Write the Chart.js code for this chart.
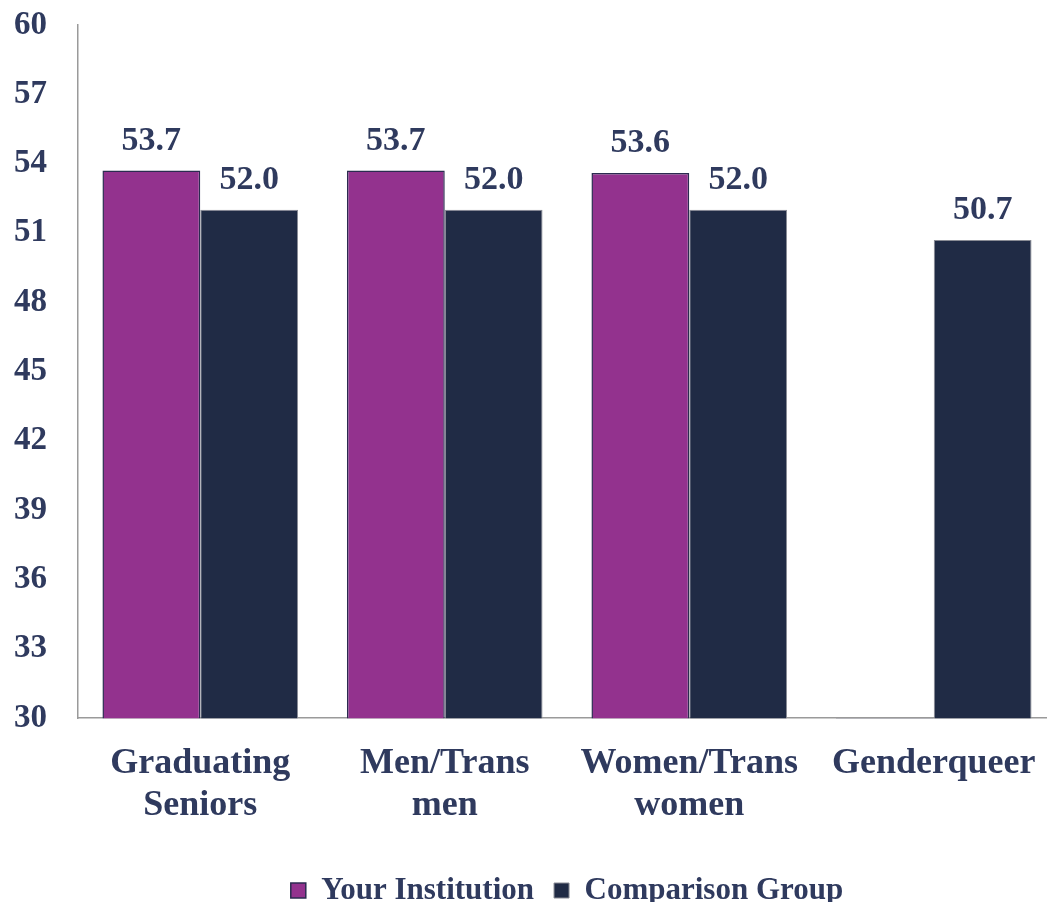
<!DOCTYPE html>
<html>
<head>
<meta charset="utf-8">
<script src="https://cdn.jsdelivr.net/npm/chart.js@4/dist/chart.umd.min.js"></script>
<style>
  html, body { margin: 0; padding: 0; background: #ffffff; overflow: hidden; }
  #wrap { width: 1056px; height: 902px; }
</style>
</head>
<body>
<div id="wrap"><canvas id="c" width="1056" height="902"></canvas></div>
<script>
const categories = [["Graduating", "Seniors"], ["Men/Trans", "men"], ["Women/Trans", "women"], ["Genderqueer"]];
const yourInstitution = [53.7, 53.7, 53.6, 30];
const comparisonGroup = [52.0, 52.0, 52.0, 50.7];
const yTicks = [30, 33, 36, 39, 42, 45, 48, 51, 54, 57, 60];

const textColor = '#2F3A5E';
const fontFamily = '"Liberation Serif", "Times New Roman", serif';

const valueLabels = {
  id: 'valueLabels',
  afterDatasetsDraw(chart) {
    const ctx = chart.ctx;
    ctx.save();
    ctx.font = 'bold 34px ' + fontFamily;
    ctx.fillStyle = textColor;
    ctx.textAlign = 'center';
    ctx.textBaseline = 'alphabetic';
    chart.data.datasets.forEach((ds, i) => {
      const meta = chart.getDatasetMeta(i);
      meta.data.forEach((el, j) => {
        const v = ds.data[j];
        if (v == null || v <= 30) return;
        ctx.fillText(v.toFixed(1), el.x, el.y - 21);
      });
    });
    ctx.restore();
  }
};

new Chart(document.getElementById('c'), {
  type: 'bar',
  data: {
    labels: categories,
    datasets: [
      {
        label: 'Your Institution',
        data: yourInstitution,
        backgroundColor: '#93328E',
        borderColor: '#2B2B50',
        borderWidth: 1.5,
        minBarLength: 2,
        categoryPercentage: 0.8,
        barPercentage: 1.0
      },
      {
        label: 'Comparison Group',
        data: comparisonGroup,
        backgroundColor: '#202B45',
        borderColor: '#8A8C95',
        borderWidth: 1,
        categoryPercentage: 0.8,
        barPercentage: 1.0
      }
    ]
  },
  options: {
    responsive: false,
    animation: false,
    layout: { padding: { top: 25, left: 14, right: 0, bottom: -14 } },
    plugins: {
      tooltip: { enabled: false },
      legend: {
        position: 'bottom',
        fullSize: false,
        labels: {
          color: textColor,
          font: { family: fontFamily, size: 31, weight: 'bold' },
          boxWidth: 15,
          boxHeight: 15,
          padding: 20
        }
      }
    },
    scales: {
      y: {
        min: 30,
        max: 60,
        afterBuildTicks(axis) { axis.ticks = yTicks.map(v => ({ value: v })); },
        afterFit(scale) { scale.paddingTop = 0; scale.paddingBottom = 0; scale.width = 64; },
        grid: { display: false, drawTicks: false },
        border: { display: true, color: '#9A9A9A', width: 1.5 },
        ticks: {
          color: textColor,
          padding: 31,
          font: { family: fontFamily, size: 33, weight: 'bold' }
        }
      },
      x: {
        afterFit(scale) { scale.paddingLeft = 0; scale.paddingRight = 0; scale.height += 4; },
        grid: { display: false, drawTicks: false },
        border: { display: true, color: '#9A9A9A', width: 1.5 },
        ticks: {
          color: textColor,
          padding: 25,
          maxRotation: 0,
          font: { family: fontFamily, size: 36, weight: 'bold', lineHeight: 1.15 }
        }
      }
    }
  },
  plugins: [valueLabels]
});
</script>
</body>
</html>
